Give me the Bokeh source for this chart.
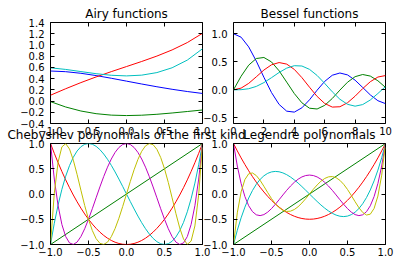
from bokeh.plotting import figure
from bokeh.models import FixedTicker, LinearAxis, Range1d
from bokeh.embed import file_html
from bokeh.resources import INLINE

# ---------------- data ----------------
airy_x = [-1.0, -0.8, -0.6, -0.4, -0.2, 0.0, 0.2, 0.4, 0.6, 0.8, 1.0]
airy_ai = [0.5356, 0.5236, 0.4948, 0.4542, 0.4063, 0.3550, 0.3037, 0.2547, 0.2098, 0.1698, 0.1353]
airy_aip = [-0.0102, -0.1058, -0.1774, -0.2250, -0.2510, -0.2588, -0.2524, -0.2358, -0.2128, -0.1864, -0.1591]
airy_bi = [0.1040, 0.2198, 0.3288, 0.4300, 0.5245, 0.6149, 0.7055, 0.8018, 0.9111, 1.0424, 1.2074]
airy_bip = [0.5924, 0.5635, 0.5254, 0.4877, 0.4594, 0.4483, 0.4618, 0.5073, 0.5931, 0.7300, 0.9324]

bessel_x = [0.0, 0.5, 1.0, 1.5, 2.0, 2.5, 3.0, 3.5, 4.0, 4.5, 5.0, 5.5, 6.0, 6.5, 7.0, 7.5, 8.0, 8.5, 9.0, 9.5, 10.0]
bessel_j0 = [1.0, 0.9385, 0.7652, 0.5118, 0.2239, -0.0484, -0.2601, -0.3801, -0.3971, -0.3205, -0.1776, -0.0068, 0.1506, 0.2601, 0.3001, 0.2663, 0.1717, 0.0419, -0.0903, -0.1939, -0.2459]
bessel_j1 = [0.0, 0.2423, 0.4401, 0.5579, 0.5767, 0.4971, 0.3391, 0.1374, -0.0660, -0.2311, -0.3276, -0.3414, -0.2767, -0.1538, -0.0047, 0.1352, 0.2346, 0.2731, 0.2453, 0.1613, 0.0435]
bessel_j2 = [0.0, 0.0306, 0.1149, 0.2321, 0.3528, 0.4461, 0.4861, 0.4586, 0.3641, 0.2178, 0.0466, -0.1173, -0.2429, -0.3074, -0.3014, -0.2303, -0.1130, 0.0223, 0.1448, 0.2279, 0.2546]
bessel_j3 = [0.0, 0.0026, 0.0196, 0.0610, 0.1289, 0.2166, 0.3091, 0.3868, 0.4302, 0.4247, 0.3648, 0.2561, 0.1148, -0.0354, -0.1676, -0.2581, -0.2911, -0.2626, -0.1809, -0.0653, 0.0584]

poly_x = [-1.0, -0.95, -0.9, -0.85, -0.8, -0.75, -0.7, -0.65, -0.6, -0.55, -0.5, -0.45, -0.4, -0.35, -0.3, -0.25, -0.2, -0.15, -0.1, -0.05, 0.0,
          0.05, 0.1, 0.15, 0.2, 0.25, 0.3, 0.35, 0.4, 0.45, 0.5, 0.55, 0.6, 0.65, 0.7, 0.75, 0.8, 0.85, 0.9, 0.95, 1.0]
lin_x = [-1.0, 1.0]
lin_y = [-1.0, 1.0]

cheb_t2 = [1.0, 0.805, 0.62, 0.445, 0.28, 0.125, -0.02, -0.155, -0.28, -0.395, -0.5, -0.595, -0.68, -0.755, -0.82, -0.875, -0.92, -0.955, -0.98, -0.995, -1.0,
           -0.995, -0.98, -0.955, -0.92, -0.875, -0.82, -0.755, -0.68, -0.595, -0.5, -0.395, -0.28, -0.155, -0.02, 0.125, 0.28, 0.445, 0.62, 0.805, 1.0]
cheb_t3 = [-1.0, -0.5795, -0.216, 0.0935, 0.352, 0.5625, 0.728, 0.8515, 0.936, 0.9845, 1.0, 0.9855, 0.944, 0.8785, 0.792, 0.6875, 0.568, 0.4365, 0.296, 0.1495, 0.0,
           -0.1495, -0.296, -0.4365, -0.568, -0.6875, -0.792, -0.8785, -0.944, -0.9855, -1.0, -0.9845, -0.936, -0.8515, -0.728, -0.5625, -0.352, -0.0935, 0.216, 0.5795, 1.0]
cheb_t4 = [1.0, 0.2961, -0.2312, -0.604, -0.8432, -0.9688, -0.9992, -0.952, -0.8432, -0.688, -0.5, -0.292, -0.0752, 0.14, 0.3448, 0.5313, 0.6928, 0.8241, 0.9208, 0.9801, 1.0,
           0.9801, 0.9208, 0.8241, 0.6928, 0.5313, 0.3448, 0.14, -0.0752, -0.292, -0.5, -0.688, -0.8432, -0.952, -0.9992, -0.9688, -0.8432, -0.604, -0.2312, 0.2961, 1.0]
cheb_t5 = [-1.0, 0.017, 0.6322, 0.9332, 0.9971, 0.8906, 0.6709, 0.386, 0.0758, -0.2278, -0.5, -0.7227, -0.8838, -0.9765, -0.9989, -0.9531, -0.8451, -0.6837, -0.4802, -0.2475, 0.0,
           0.2475, 0.4802, 0.6837, 0.8451, 0.9531, 0.9989, 0.9765, 0.8838, 0.7227, 0.5, 0.2278, -0.0758, -0.386, -0.6709, -0.8906, -0.9971, -0.9332, -0.6322, -0.017, 1.0]

leg_p2 = [1.0, 0.8538, 0.715, 0.5838, 0.46, 0.3438, 0.235, 0.1338, 0.04, -0.0463, -0.125, -0.1963, -0.26, -0.3163, -0.365, -0.4063, -0.44, -0.4663, -0.485, -0.4963, -0.5,
          -0.4963, -0.485, -0.4663, -0.44, -0.4063, -0.365, -0.3163, -0.26, -0.1963, -0.125, -0.0463, 0.04, 0.1338, 0.235, 0.3438, 0.46, 0.5838, 0.715, 0.8538, 1.0]
leg_p3 = [-1.0, -0.7184, -0.4725, -0.2603, -0.08, 0.0703, 0.1925, 0.2884, 0.36, 0.4091, 0.4375, 0.4472, 0.44, 0.4178, 0.3825, 0.3359, 0.28, 0.2166, 0.1475, 0.0747, 0.0,
          -0.0747, -0.1475, -0.2166, -0.28, -0.3359, -0.3825, -0.4178, -0.44, -0.4472, -0.4375, -0.4091, -0.36, -0.2884, -0.1925, -0.0703, 0.08, 0.2603, 0.4725, 0.7184, 1.0]
leg_p4 = [1.0, 0.5541, 0.2079, -0.0506, -0.233, -0.3501, -0.4121, -0.4284, -0.408, -0.359, -0.2891, -0.205, -0.113, -0.0187, 0.0729, 0.1577, 0.232, 0.2928, 0.3379, 0.3657, 0.375,
          0.3657, 0.3379, 0.2928, 0.232, 0.1577, 0.0729, -0.0187, -0.113, -0.205, -0.2891, -0.359, -0.408, -0.4284, -0.4121, -0.3501, -0.233, -0.0506, 0.2079, 0.5541, 1.0]
leg_p5 = [-1.0, -0.3727, 0.0411, 0.2857, 0.3995, 0.4164, 0.3652, 0.2705, 0.1526, 0.0282, -0.0898, -0.1917, -0.2706, -0.3225, -0.3454, -0.3397, -0.3075, -0.2523, -0.1788, -0.0927, 0.0,
          0.0927, 0.1788, 0.2523, 0.3075, 0.3397, 0.3454, 0.3225, 0.2706, 0.1917, 0.0898, -0.0282, -0.1526, -0.2705, -0.3652, -0.4164, -0.3995, -0.2857, -0.0411, 0.3727, 1.0]

titles = ["Airy functions", "Bessel functions",
          "Chebyshev polynomials of the first kind", "Legendre polynomials"]

ticks_pm1 = [-1.0, -0.5, 0.0, 0.5, 1.0]
labels_pm1 = ["\u22121.0", "\u22120.5", "0.0", "0.5", "1.0"]
airy_yticks = [-0.4, -0.2, 0.0, 0.2, 0.4, 0.6, 0.8, 1.0, 1.2, 1.4]
airy_ylabels = ["\u22120.4", "\u22120.2", "0.0", "0.2", "0.4", "0.6", "0.8", "1.0", "1.2", "1.4"]
bessel_xticks = [0, 2, 4, 6, 8, 10]
bessel_xlabels = ["0", "2", "4", "6", "8", "10"]
bessel_yticks = [-0.5, 0.0, 0.5, 1.0]
bessel_ylabels = ["\u22120.5", "0.0", "0.5", "1.0"]

# ---------------- styling ----------------
W, H = 399, 266
FONT = "DejaVu Sans"
C = dict(b="#0000ff", g="#008000", r="#ff0000", c="#00bfbf", m="#bf00bf", y="#bfbf00")
COLS = [50, 233]
ROWS = [22, 143]
FW, FH = 152, 101


def make(col, row, xr, yr, xt, xl, yt, yl, title):
    left, top = COLS[col], ROWS[row]
    p = figure(width=W, height=H, x_range=Range1d(*xr), y_range=Range1d(*yr),
               min_border_left=left, min_border_right=W - left - FW,
               min_border_top=top, min_border_bottom=H - top - FH,
               output_backend="svg", toolbar_location=None, tools="",
               background_fill_alpha=0, border_fill_alpha=0,
               x_axis_location=None, y_axis_location=None)
    p.grid.visible = False
    p.outline_line_color = "black"
    p.outline_line_width = 1
    p.outline_line_alpha = 1
    p.title.text = title
    p.title.align = "center"
    p.title.text_font = FONT
    p.title.text_font_size = "12px"
    p.title.text_font_style = "normal"
    p.title.text_color = "black"
    p.title.standoff = 4
    for loc, ticks, labels in (("below", xt, xl), ("left", yt, yl)):
        ax = LinearAxis(ticker=FixedTicker(ticks=ticks),
                        major_label_overrides=dict(zip(ticks, labels)))
        ax.axis_line_color = None
        ax.major_tick_in = 4
        ax.major_tick_out = 0
        ax.minor_tick_line_color = None
        ax.major_tick_line_color = "black"
        ax.major_label_text_font = FONT
        ax.major_label_text_font_size = "10px"
        ax.major_label_text_color = "black"
        ax.major_label_standoff = 6 if loc == "left" else 3
        p.add_layout(ax, loc)
    # mirrored tick marks (no labels) on the top and right edges
    for loc, ticks in (("above", xt), ("right", yt)):
        ax = LinearAxis(ticker=FixedTicker(ticks=[], minor_ticks=ticks))
        ax.axis_line_color = None
        ax.major_tick_line_color = None
        ax.minor_tick_in = 4
        ax.minor_tick_out = 0
        ax.minor_tick_line_color = "black"
        p.add_layout(ax, loc)
    p.styles = {"position": "absolute", "left": "0px", "top": "0px",
                "width": "%dpx" % W, "height": "%dpx" % H}
    return p


p1 = make(0, 0, (-1, 1), (-0.4, 1.4), ticks_pm1, labels_pm1, airy_yticks, airy_ylabels, titles[0])
for ys, c in ((airy_ai, "b"), (airy_aip, "g"), (airy_bi, "r"), (airy_bip, "c")):
    p1.line(airy_x, ys, line_color=C[c], line_width=1)

p2 = make(1, 0, (0, 10), (-0.6, 1.2), bessel_xticks, bessel_xlabels, bessel_yticks, bessel_ylabels, titles[1])
for ys, c in ((bessel_j0, "b"), (bessel_j1, "g"), (bessel_j2, "r"), (bessel_j3, "c")):
    p2.line(bessel_x, ys, line_color=C[c], line_width=1)

p3 = make(0, 1, (-1, 1), (-1, 1), ticks_pm1, labels_pm1, ticks_pm1, labels_pm1, titles[2])
p3.line(lin_x, lin_y, line_color=C["g"], line_width=1)
for ys, c in ((cheb_t2, "r"), (cheb_t3, "c"), (cheb_t4, "m"), (cheb_t5, "y")):
    p3.line(poly_x, ys, line_color=C[c], line_width=1)

p4 = make(1, 1, (-1, 1), (-1, 1), ticks_pm1, labels_pm1, ticks_pm1, labels_pm1, titles[3])
p4.line(lin_x, lin_y, line_color=C["g"], line_width=1)
for ys, c in ((leg_p2, "r"), (leg_p3, "c"), (leg_p4, "m"), (leg_p5, "y")):
    p4.line(poly_x, ys, line_color=C[c], line_width=1)

open("out.html", "w").write(file_html([p1, p2, p3, p4], INLINE))
